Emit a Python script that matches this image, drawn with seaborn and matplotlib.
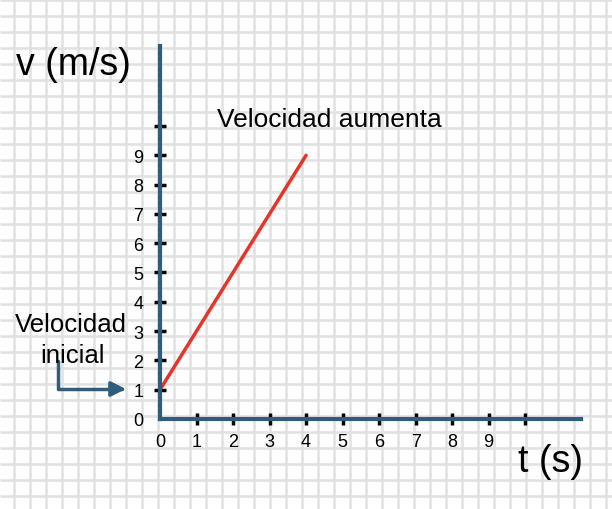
import numpy as np
import seaborn as sns
import matplotlib.pyplot as plt

# values
t = [0, 4]
v = [1, 9]
x_ticks = list(range(0, 11))
x_labels = [str(i) for i in range(0, 10)] + [""]
y_ticks = list(range(0, 11))
y_labels = [str(i) for i in range(0, 10)] + [""]

sns.set_style("white")
plt.rcParams['font.family'] = ['Liberation Sans', 'DejaVu Sans']
plt.rcParams['text.color'] = 'black'

W, H = 612, 510
fig = plt.figure(figsize=(W / 100, H / 100), dpi=100)

# squared paper in the background, one line every 16 px
bg = fig.add_axes([0, 0, 1, 1], zorder=0)
bg.set_xlim(0, W)
bg.set_ylim(H, 0)
for gx in np.arange(13.5, W, 16):
    bg.axvline(gx, color='#e2e2e2', lw=1.9, solid_capstyle='butt')
for gy in np.arange(0.5, H, 16):
    bg.axhline(gy, color='#e2e2e2', lw=1.9, solid_capstyle='butt')
bg.set_axis_off()

# main axes (pixel box: x 160..581, y 47..420)
ax = fig.add_axes([160 / W, 90 / H, 421 / W, 373 / H], zorder=1)
ax.patch.set_alpha(0)
sns.lineplot(x=t, y=v, color='#e8332a', lw=2.5, ax=ax)
ax.set_xlim(0, 11.53)
ax.set_ylim(0, 12.73)

slate = '#2f5d7c'
for side in ['top', 'right']:
    ax.spines[side].set_visible(False)
for side in ['left', 'bottom']:
    ax.spines[side].set_color(slate)
    ax.spines[side].set_linewidth(3)

ax.set_xticks(x_ticks)
ax.set_xticklabels(x_labels)
ax.set_yticks(y_ticks)
ax.set_yticklabels(y_labels)
ax.tick_params(axis='both', direction='inout', length=8, width=2.5,
               color='black', labelsize=13, labelcolor='black',
               bottom=True, left=True)
ax.tick_params(axis='y', pad=8)
ax.tick_params(axis='x', pad=6)
ax.xaxis.get_major_ticks()[0].tick1line.set_visible(False)
ax.yaxis.get_major_ticks()[0].tick1line.set_visible(False)
ax.set_xlabel("")
ax.set_ylabel("")


def fx(px):
    return px / W


def fy(py):
    return 1 - py / H


fig.text(fx(16), fy(75), "v (m/s)", fontsize=27, ha='left', va='baseline')
fig.text(fx(518), fy(472), "t (s)", fontsize=27, ha='left', va='baseline')
fig.text(fx(217), fy(127), "Velocidad aumenta", fontsize=19, ha='left', va='baseline')
fig.text(fx(71), fy(332), "Velocidad", fontsize=18.5, ha='center', va='baseline')
fig.text(fx(73), fy(363), "inicial", fontsize=18.5, ha='center', va='baseline')

ax.annotate('', xy=(126, H - 390), xytext=(58, H - 362),
            xycoords='figure pixels', textcoords='figure pixels',
            arrowprops=dict(arrowstyle='-|>', color=slate, lw=2.5,
                            mutation_scale=22, shrinkA=0, shrinkB=0,
                            connectionstyle='angle,angleA=90,angleB=0,rad=0'))

fig.savefig("out.png", dpi=100)
